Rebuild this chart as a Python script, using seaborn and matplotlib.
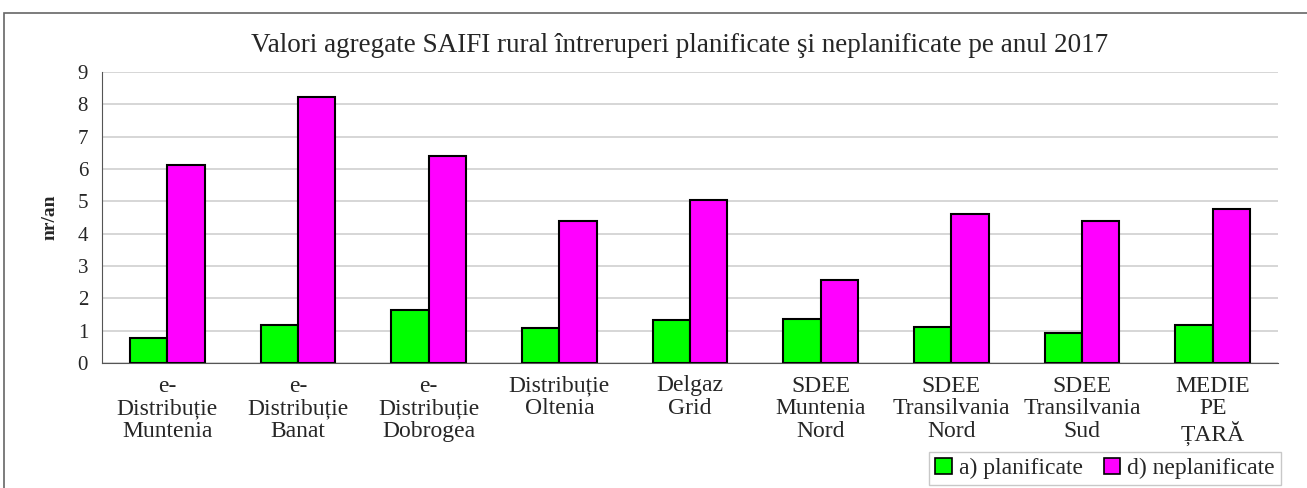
import matplotlib
matplotlib.use("Agg")
import matplotlib.pyplot as plt
import matplotlib.patches as mpatches
import seaborn as sns
import numpy as np
import pandas as pd

categories = ["e-\nDistribuție\nMuntenia", "e-\nDistribuție\nBanat", "e-\nDistribuție\nDobrogea",
              "Distribuție\nOltenia", "Delgaz\nGrid", "SDEE\nMuntenia\nNord",
              "SDEE\nTransilvania\nNord", "SDEE\nTransilvania\nSud", "MEDIE\nPE\nȚARĂ"]
planificate = [0.76, 1.17, 1.65, 1.07, 1.34, 1.37, 1.10, 0.94, 1.17]
neplanificate = [6.13, 8.22, 6.40, 4.40, 5.04, 2.56, 4.62, 4.40, 4.76]
series_names = ["a) planificate", "d) neplanificate"]
colours = ["#00ff00", "#ff00ff"]

df = pd.DataFrame({
  "cat": categories * 2,
  "val": planificate + neplanificate,
  "serie": [series_names[0]] * len(categories) + [series_names[1]] * len(categories),
})

sns.set_style("white")
plt.rcParams['font.family'] = ['Liberation Serif', 'DejaVu Serif']

fig = plt.figure(figsize=(13.07, 4.88), dpi=100)
ax = fig.add_axes([102/1307, 1-363/488, (1278-102)/1307, (363-72)/488])

sns.barplot(data=df, x="cat", y="val", hue="serie", palette=colours, width=0.57, gap=0,
            edgecolor="black", linewidth=1.5, saturation=1, ax=ax, legend=False)

ax.set_ylim(0, 9)
ax.set_xlim(-0.5, len(categories) - 0.5)
ax.set_yticks(range(0, 10))
ax.tick_params(axis="y", labelsize=15, length=5, width=1, color="#555555", pad=5)
ax.yaxis.grid(True, color="#d0d0d0", linewidth=1.2)
ax.set_axisbelow(True)
ax.set_xticks(range(len(categories)))
ax.set_xticklabels(categories, fontsize=17, linespacing=1.1)
ax.tick_params(axis="x", which="major", length=0, pad=9)
ax.set_xticks(np.arange(-0.5, len(categories)), minor=True)
ax.tick_params(axis="x", which="minor", length=6, width=1, color="#555555")
for s in ["top", "right"]:
  ax.spines[s].set_visible(False)
ax.spines["left"].set_color("#555555")
ax.spines["bottom"].set_color("#555555")
ax.set_xlabel("")
ax.set_ylabel("nr/an", fontsize=14, fontweight="bold", labelpad=14)

fig.suptitle("Valori agregate SAIFI rural întreruperi planificate şi neplanificate pe anul 2017",
             x=(252+1108)/2/1307, y=1-45/488, va="center", fontsize=19.5)

handles = [mpatches.Patch(facecolor=c, edgecolor="black", linewidth=1.2, label=n) for c, n in zip(colours, series_names)]
fig.legend(handles=handles, loc="lower right", bbox_to_anchor=(1281/1307, 3/488), borderaxespad=0,
           ncol=2, fontsize=17, frameon=True, fancybox=False, edgecolor="#bbbbbb",
           handlelength=0.7, handleheight=0.7, handletextpad=0.3, columnspacing=0.9, borderpad=0.25)

# outer frame of the picture
fig.patches.append(mpatches.Rectangle((4/1307, -0.1), 1.2, 1-13/488 + 0.1, transform=fig.transFigure,
                                      fill=False, edgecolor="#666666", linewidth=1.2))

fig.savefig("out.png", dpi=100)
